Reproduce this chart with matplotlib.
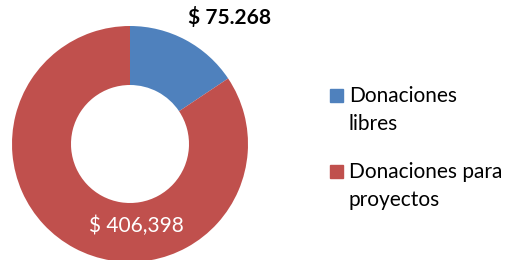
import numpy as np
import matplotlib
matplotlib.use('Agg')
import matplotlib.pyplot as plt
from matplotlib.patches import Rectangle

plt.rcParams['font.family'] = ['Lato', 'DejaVu Sans']

labels = ['Donaciones\nlibres', 'Donaciones para\nproyectos']
values = [75268, 406398]
value_texts = ['$ 75.268', '$ 406,398']
colors = ['#4F81BD', '#C0504D']

W, H = 509, 260
fig = plt.figure(figsize=(W / 100, H / 100), dpi=100)
ax = fig.add_axes([12 / W, -2 / H, 236 / W, 236 / H])

wedges, _ = ax.pie(values, colors=colors, startangle=90, counterclock=False,
                   radius=1, wedgeprops=dict(width=0.5, edgecolor='none'))
ax.set_xlim(-1, 1)
ax.set_ylim(-1, 1)

# value labels
ax.text(0.84, 1.07, value_texts[0], ha='center', va='center',
        fontsize=15, fontweight='bold', color='black', clip_on=False)
ax.text(0.05, -0.69, value_texts[1], ha='center', va='center',
        fontsize=15, color='white')

# legend drawn by hand so the square sits on the first line
entry_top = [102, 178]   # baseline of first line, px from top
line_step = 28
for lab, col, y0 in zip(labels, colors, entry_top):
    fig.patches.append(Rectangle((330 / W, 1 - y0 / H), 13 / W, 13 / H,
                                 transform=fig.transFigure, color=col))
    for i, line in enumerate(lab.split('\n')):
        fig.text(349 / W, 1 - (y0 + i * line_step) / H, line,
                 ha='left', va='baseline', fontsize=15, color='black')

fig.savefig('out.png', dpi=100)
